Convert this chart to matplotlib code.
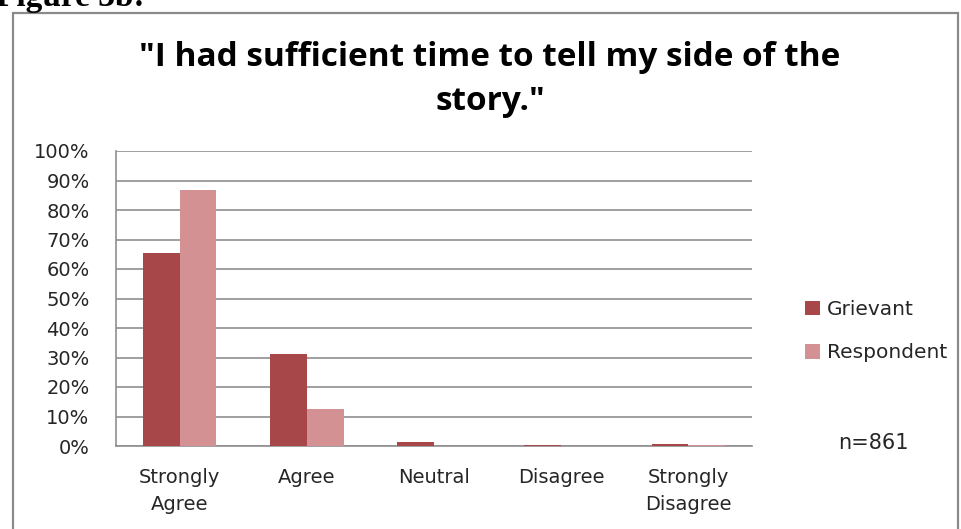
import numpy as np
import matplotlib.pyplot as plt
from matplotlib.patches import Rectangle

plt.rcParams['font.family'] = ['Open Sans', 'DejaVu Sans']

categories = ['Strongly\nAgree', 'Agree', 'Neutral', 'Disagree', 'Strongly\nDisagree']
grievant = [65.5, 31.1, 1.5, 0.5, 0.8]
respondent = [86.8, 12.6, 0.0, 0.1, 0.3]
yticks = [0, 10, 20, 30, 40, 50, 60, 70, 80, 90, 100]
ytick_labels = [f'{v}%' for v in yticks]

G_COLOR = '#a8474a'
R_COLOR = '#d39193'
GRID = '#8f8f8f'
TXT = '#262626'
LABEL_FONT = 'DejaVu Sans'

fig = plt.figure(figsize=(9.62, 5.29), dpi=100)
W, H = 962, 529

# outer chart frame
fig.patches.append(Rectangle((13 / W, -0.05), (958 - 13) / W, 1.05 - 13 / H,
                             transform=fig.transFigure, fill=False,
                             edgecolor='#8a8a8a', linewidth=1.6))
fig.text(-4 / W, 1 - 6 / H, 'Figure 3b:', family='Liberation Serif',
         fontweight='bold', fontsize=24, va='baseline', ha='left')

ax = fig.add_axes([116 / W, 1 - 446 / H, (752 - 116) / W, (446 - 151) / H])
x = np.arange(len(categories))
w = 0.29
ax.bar(x - w / 2, grievant, w, color=G_COLOR, label='Grievant', zorder=3)
ax.bar(x + w / 2, respondent, w, color=R_COLOR, label='Respondent', zorder=3)

ax.set_xlim(-0.5, len(categories) - 0.5)
ax.set_ylim(0, 100)
ax.set_yticks(yticks)
ax.set_yticklabels(ytick_labels, fontsize=14, color=TXT, family=LABEL_FONT)
ax.set_xticks(x)
ax.set_xticklabels(categories, fontsize=14, color=TXT, family=LABEL_FONT,
                   linespacing=1.55)
ax.tick_params(axis='y', length=0, pad=19)
ax.tick_params(axis='x', length=0, pad=16)
ax.grid(axis='y', color=GRID, linewidth=1.2, zorder=0)
for side in ['top', 'right']:
    ax.spines[side].set_visible(False)
for side in ['left', 'bottom']:
    ax.spines[side].set_color(GRID)
    ax.spines[side].set_linewidth(1.2)

fig.text(490 / W, 1 - 66 / H, '"I had sufficient time to tell my side of the',
         ha='center', va='baseline', fontsize=24, fontweight='bold')
fig.text(490 / W, 1 - 110 / H, 'story."',
         ha='center', va='baseline', fontsize=24, fontweight='bold')

fig.legend(loc='upper left', bbox_to_anchor=(795 / W, 1 - 290 / H),
           frameon=False, prop={'family': LABEL_FONT, 'size': 14.5},
           handlelength=0.75, handleheight=0.75,
           handletextpad=0.35, labelspacing=1.2, borderpad=0,
           labelcolor=TXT)
fig.text(873 / W, 1 - 443 / H, 'n=861', ha='center', va='center', fontsize=15,
         family=LABEL_FONT, color=TXT)

fig.savefig('out.png', dpi=100)
